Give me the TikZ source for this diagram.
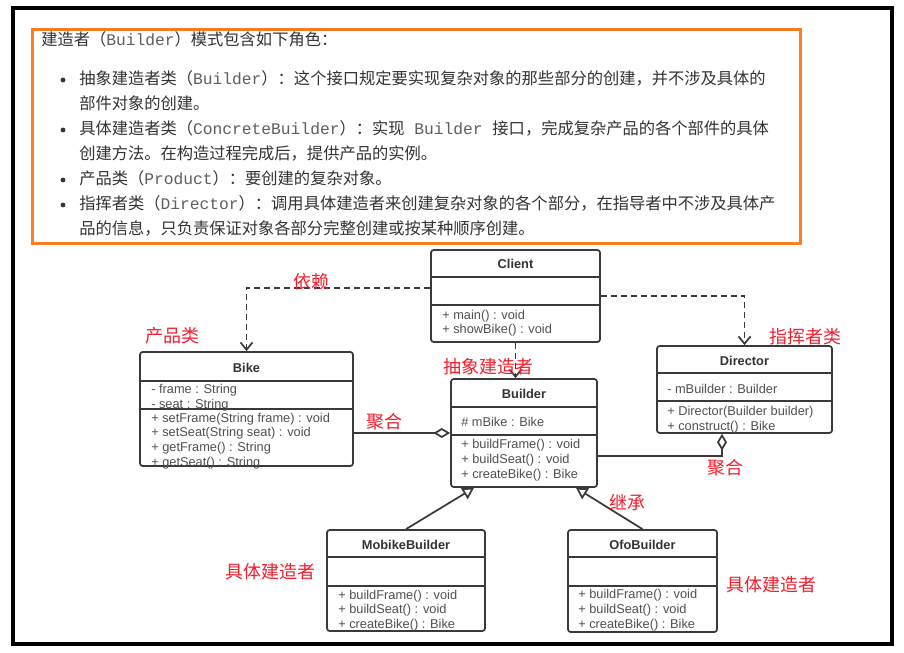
\documentclass[tikz,border=0pt]{standalone}
\usepackage{fontspec}
\setmainfont{Liberation Sans}
\newfontfamily\cjkf{Noto Sans CJK SC}
\newfontfamily\monof{Liberation Mono}
\usetikzlibrary{arrows.meta,fit}
\definecolor{frameorange}{RGB}{252,126,36}
\definecolor{boxc}{RGB}{58,58,58}
\definecolor{titlec}{RGB}{51,51,51}
\definecolor{memc}{RGB}{80,80,80}
\definecolor{textc}{RGB}{51,51,51}
\definecolor{monoc}{RGB}{95,95,95}
\definecolor{lblred}{RGB}{245,30,45}
\newcommand\codetxt[1]{{\monof\color{monoc}#1}}
\tikzset{
  umlbox/.style={draw=boxc, line width=1.3pt, rounded corners=2pt, inner sep=0pt},
  sepline/.style={draw=boxc, line width=1.3pt},
  umltitle/.style={font=\fontsize{9.6}{11}\selectfont\bfseries, text=titlec, inner sep=0pt, text height=6.9pt, text depth=0pt},
  member/.style={font=\fontsize{9.6}{11}\selectfont, text=memc, anchor=west, inner sep=0pt, text height=7pt, text depth=0.6pt},
  redlbl/.style={font=\cjkf\fontsize{13.5}{15}\selectfont, text=lblred, inner sep=0pt, text height=11.9pt, text depth=1.6pt},
  para/.style={font=\cjkf\fontsize{12.2}{14}\selectfont, text=textc, anchor=west, inner sep=0pt, text height=10.6pt, text depth=1.5pt},
  bulletdot/.style={circle, fill=textc, inner sep=0pt, minimum size=3.6pt},
  dep/.style={draw=boxc, line width=1.3pt, dash pattern=on 4.5pt off 3pt, -{Straight Barb[length=5.5pt,width=9pt]}},
  agg/.style={draw=boxc, line width=1.3pt, -{Diamond[open,length=12.5pt,width=7.5pt,fill=white]}},
  inh/.style={draw=boxc, line width=1.3pt, -{Triangle[open,length=8.5pt,width=9.5pt,fill=white]}},
}
\begin{document}
\begin{tikzpicture}[x=0.75pt,y=-0.75pt]
\useasboundingbox (0,0) rectangle (904,653);
\fill[white] (0,0) rectangle (904,653);
% outer frame and text frame
\draw[black, line width=3pt] (13,8) rectangle (892,644);
\draw[frameorange, line width=2.25pt] (32,29) rectangle (800,243);

% paragraph text
\node[para] (p0) at (41,39) {建造者（\codetxt{Builder}）模式包含如下角色：};
\node[bulletdot] (b1) at (63,80) {};
\node[para] (p1) at (79,78) {抽象建造者类（\codetxt{Builder}）：这个接口规定要实现复杂对象的那些部分的创建，并不涉及具体的};
\node[para] (p2) at (79,103) {部件对象的创建。};
\node[bulletdot] (b2) at (63,130) {};
\node[para] (p3) at (79,128) {具体建造者类（\codetxt{ConcreteBuilder}）：实现\codetxt{\ Builder\ }接口，完成复杂产品的各个部件的具体};
\node[para] (p4) at (79,153) {创建方法。在构造过程完成后，提供产品的实例。};
\node[bulletdot] (b3) at (63,180) {};
\node[para] (p5) at (79,178) {产品类（\codetxt{Product}）：要创建的复杂对象。};
\node[bulletdot] (b4) at (63,205) {};
\node[para] (p6) at (79,203) {指挥者类（\codetxt{Director}）：调用具体建造者来创建复杂对象的各个部分，在指导者中不涉及具体产};
\node[para] (p7) at (79,228) {品的信息，只负责保证对象各部分完整创建或按某种顺序创建。};

% Client
\node[umlbox, fit={(431,250) (600,342)}] (client) {};
\draw[sepline] (431,277) -- (600,277) (431,305) -- (600,305);
\node[umltitle] (clientT) at (515.5,264) {Client};
\node[member] (clientM1) at (442,315) {+ main() : void};
\node[member] (clientM2) at (442,329) {+ showBike() : void};

% Bike
\node[umlbox, fit={(140,352) (353,466)}] (bike) {};
\draw[sepline] (140,381) -- (353,381) (140,409) -- (353,409);
\node[umltitle] (bikeT) at (246.5,368) {Bike};
\node[member] (bikeA1) at (151,389) {- frame : String};
\node[member] (bikeA2) at (151,404) {- seat : String};
\node[member] (bikeM1) at (151,418) {+ setFrame(String frame) : void};
\node[member] (bikeM2) at (151,432) {+ setSeat(String seat) : void};
\node[member] (bikeM3) at (151,447) {+ getFrame() : String};
\node[member] (bikeM4) at (151,462) {+ getSeat() : String};

% Builder
\node[umlbox, fit={(451,379) (597,487)}] (builder) {};
\draw[sepline] (451,407) -- (597,407) (451,435) -- (597,435);
\node[umltitle] (builderT) at (524,394) {Builder};
\node[member] (builderA1) at (461,422) {\# mBike : Bike};
\node[member] (builderM1) at (461,444) {+ buildFrame() : void};
\node[member] (builderM2) at (461,459) {+ buildSeat() : void};
\node[member] (builderM3) at (461,474) {+ createBike() : Bike};

% Director
\node[umlbox, fit={(657,346) (832,433)}] (director) {};
\draw[sepline] (657,373) -- (832,373) (657,401) -- (832,401);
\node[umltitle] (directorT) at (744.5,361) {Director};
\node[member] (directorA1) at (667,389) {- mBuilder : Builder};
\node[member] (directorM1) at (667,411) {+ Director(Builder builder)};
\node[member] (directorM2) at (667,426) {+ construct() : Bike};

% MobikeBuilder
\node[umlbox, fit={(327,530) (485,631)}] (mobike) {};
\draw[sepline] (327,557) -- (485,557) (327,586) -- (485,586);
\node[umltitle] (mobikeT) at (406,545) {MobikeBuilder};
\node[member] (mobikeM1) at (338,595) {+ buildFrame() : void};
\node[member] (mobikeM2) at (338,609) {+ buildSeat() : void};
\node[member] (mobikeM3) at (338,624) {+ createBike() : Bike};

% OfoBuilder
\node[umlbox, fit={(568,530) (717,632)}] (ofo) {};
\draw[sepline] (568,557) -- (717,557) (568,586) -- (717,586);
\node[umltitle] (ofoT) at (642.5,545) {OfoBuilder};
\node[member] (ofoM1) at (578,594) {+ buildFrame() : void};
\node[member] (ofoM2) at (578,609) {+ buildSeat() : void};
\node[member] (ofoM3) at (578,624) {+ createBike() : Bike};

% connectors
\coordinate (c1) at (247,288);
\coordinate (c3) at (0,433);
\coordinate (c4) at (722,456);
\coordinate (c5) at (474,0);
\coordinate (c6) at (576,0);
\draw[dep] (client.west |- c1) -| (bike.north);
\draw[dep] (client.east) -| (director.north);
\draw[dep] (client.south) -- (client.south |- builder.north);
\draw[agg] (bike.east |- c3) -- (builder.west |- c3);
\draw[agg] (builder.east |- c4) -- (c4) -- (c4 |- director.south);
\draw[inh] (mobike.north) -- (builder.south -| c5);
\draw[inh] (ofo.north) -- (builder.south -| c6);

% red labels
\node[redlbl] (l1) at (311,282) {依赖};
\node[redlbl] (l2) at (172.5,336) {产品类};
\node[redlbl] (l3) at (488.5,367) {抽象建造者};
\node[redlbl] (l4) at (384,422) {聚合};
\node[redlbl] (l5) at (805.5,337) {指挥者类};
\node[redlbl] (l6) at (725.5,468) {聚合};
\node[redlbl] (l7) at (627.5,503) {继承};
\node[redlbl] (l8) at (270.5,572) {具体建造者};
\node[redlbl] (l9) at (771.5,585) {具体建造者};
\end{tikzpicture}
\end{document}
